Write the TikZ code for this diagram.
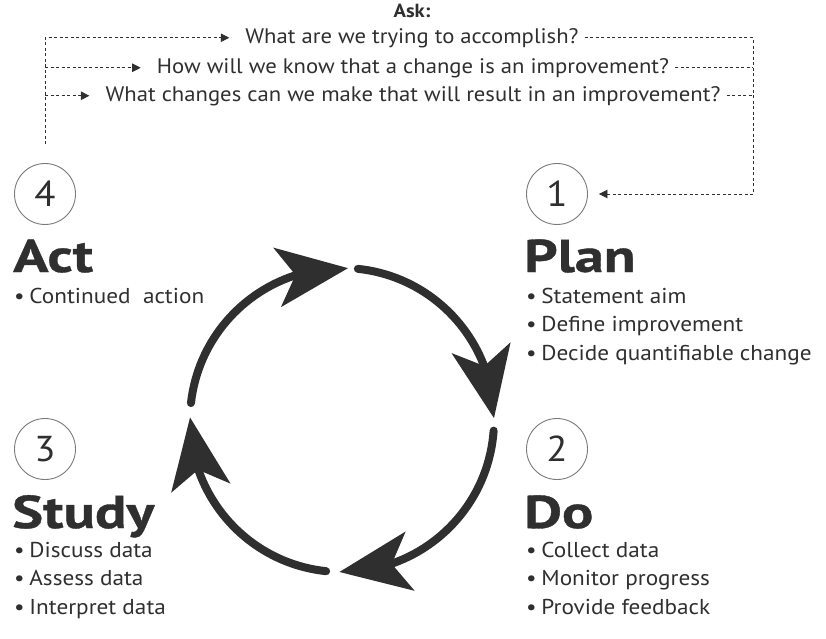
\documentclass[tikz,border=0pt]{standalone}
\usepackage{fontspec}
\setmainfont{PT Sans}[FakeStretch=1.08]
\newfontfamily\headfont{PT Sans}[BoldFeatures={FakeStretch=1.27,FakeBold=0.8}]
\usetikzlibrary{arrows.meta,bending,positioning}
\definecolor{ink}{HTML}{2F2F2F}
\definecolor{ring}{HTML}{7A7A7A}
\newcommand\itembul{•\hspace{0.22em}}
\tikzset{
  stepnum/.style={circle,draw=ring,line width=0.9pt,minimum size=61pt,inner sep=0pt,
    font=\fontsize{36}{36}\selectfont,text=ink},
  title/.style={anchor=base west,inner sep=0pt,font=\headfont\bfseries\fontsize{46}{46}\selectfont,text=ink},
  item/.style={anchor=base west,inner sep=0pt,font=\fontsize{21.5}{21.5}\selectfont,text=ink},
  question/.style={anchor=base,inner xsep=6pt,inner ysep=0pt,font=\fontsize{21}{21}\selectfont,text=ink},
  askline/.style={draw=ink,line width=0.9pt,dash pattern=on 3pt off 2.5pt},
  asktip/.style={askline,-{Triangle[length=8.5pt,width=8.5pt]}},
  cyclearrow/.style={draw=ink,line width=8pt,line cap=round,
    -{Stealth[length=71pt,width=59pt,inset=18pt,flex]}}
}
\begin{document}
\begin{tikzpicture}[x=1pt,y=1pt]
\useasboundingbox (0,0) rectangle (826,-638);
% step numbers
\node[stepnum] (n1) at (557,-194) {1};
\node[stepnum] (n2) at (557,-449) {2};
\node[stepnum] (n3) at (45,-449) {3};
\node[stepnum] (n4) at (45,-194) {4};
% titles
\node[title] (plan) at (524,-272) {Plan};
\node[title] (do) at (524,-528) {Do};
\node[title] (study) at (12,-528) {Study};
\node[title] (act) at (13,-272) {Act};
% bullet lists
\foreach \t [count=\i] in {Statement aim,Define improvement,Decide quantifiable change}
  \node[item] (plan-\i) at (526,-274.5-28.5*\i) {\itembul\t};
\foreach \t [count=\i] in {Collect data,Monitor progress,Provide feedback}
  \node[item] (do-\i) at (526,-528.5-28.5*\i) {\itembul\t};
\foreach \t [count=\i] in {Discuss data,Assess data,Interpret data}
  \node[item] (study-\i) at (14,-528.5-28.5*\i) {\itembul\t};
\node[item] (act-1) at (14,-303) {\itembul Continued~ action};
% questions
\node[anchor=base,inner sep=0pt,font=\bfseries\fontsize{19}{19}\selectfont,text=ink] (ask) at (412,-17) {Ask:};
\node[question] (q1) at (412,-43) {What are we trying to accomplish?};
\node[question] (q2) at (413,-73) {How will we know that a change is an improvement?};
\node[question] (q3) at (413,-101) {What changes can we make that will result in an improvement?};
\coordinate (rgt) at (753,-35);
\draw[asktip,shorten <=19pt,shorten >=10pt] (n4.north) |- (q1.west);
\draw[asktip,shorten >=10pt] (n4.north |- q2.west) -- (q2.west);
\draw[asktip,shorten >=10pt] (n4.north |- q3.west) -- (q3.west);
\draw[asktip,shorten >=11pt] (q1.east) -- (q1.east -| rgt) |- (n1.east);
\draw[askline] (q2.east) -- (q2.east -| rgt);
\draw[askline] (q3.east) -- (q3.east -| rgt);
% cycle
\coordinate (hub) at (342,-420);
\foreach \a/\b in {84/0.7,-4/-91,-96/-181,173.6/87.7}
  \draw[cyclearrow] ([shift={(\a:152)}]hub) arc[start angle=\a,end angle=\b,radius=152];
\end{tikzpicture}
\end{document}
